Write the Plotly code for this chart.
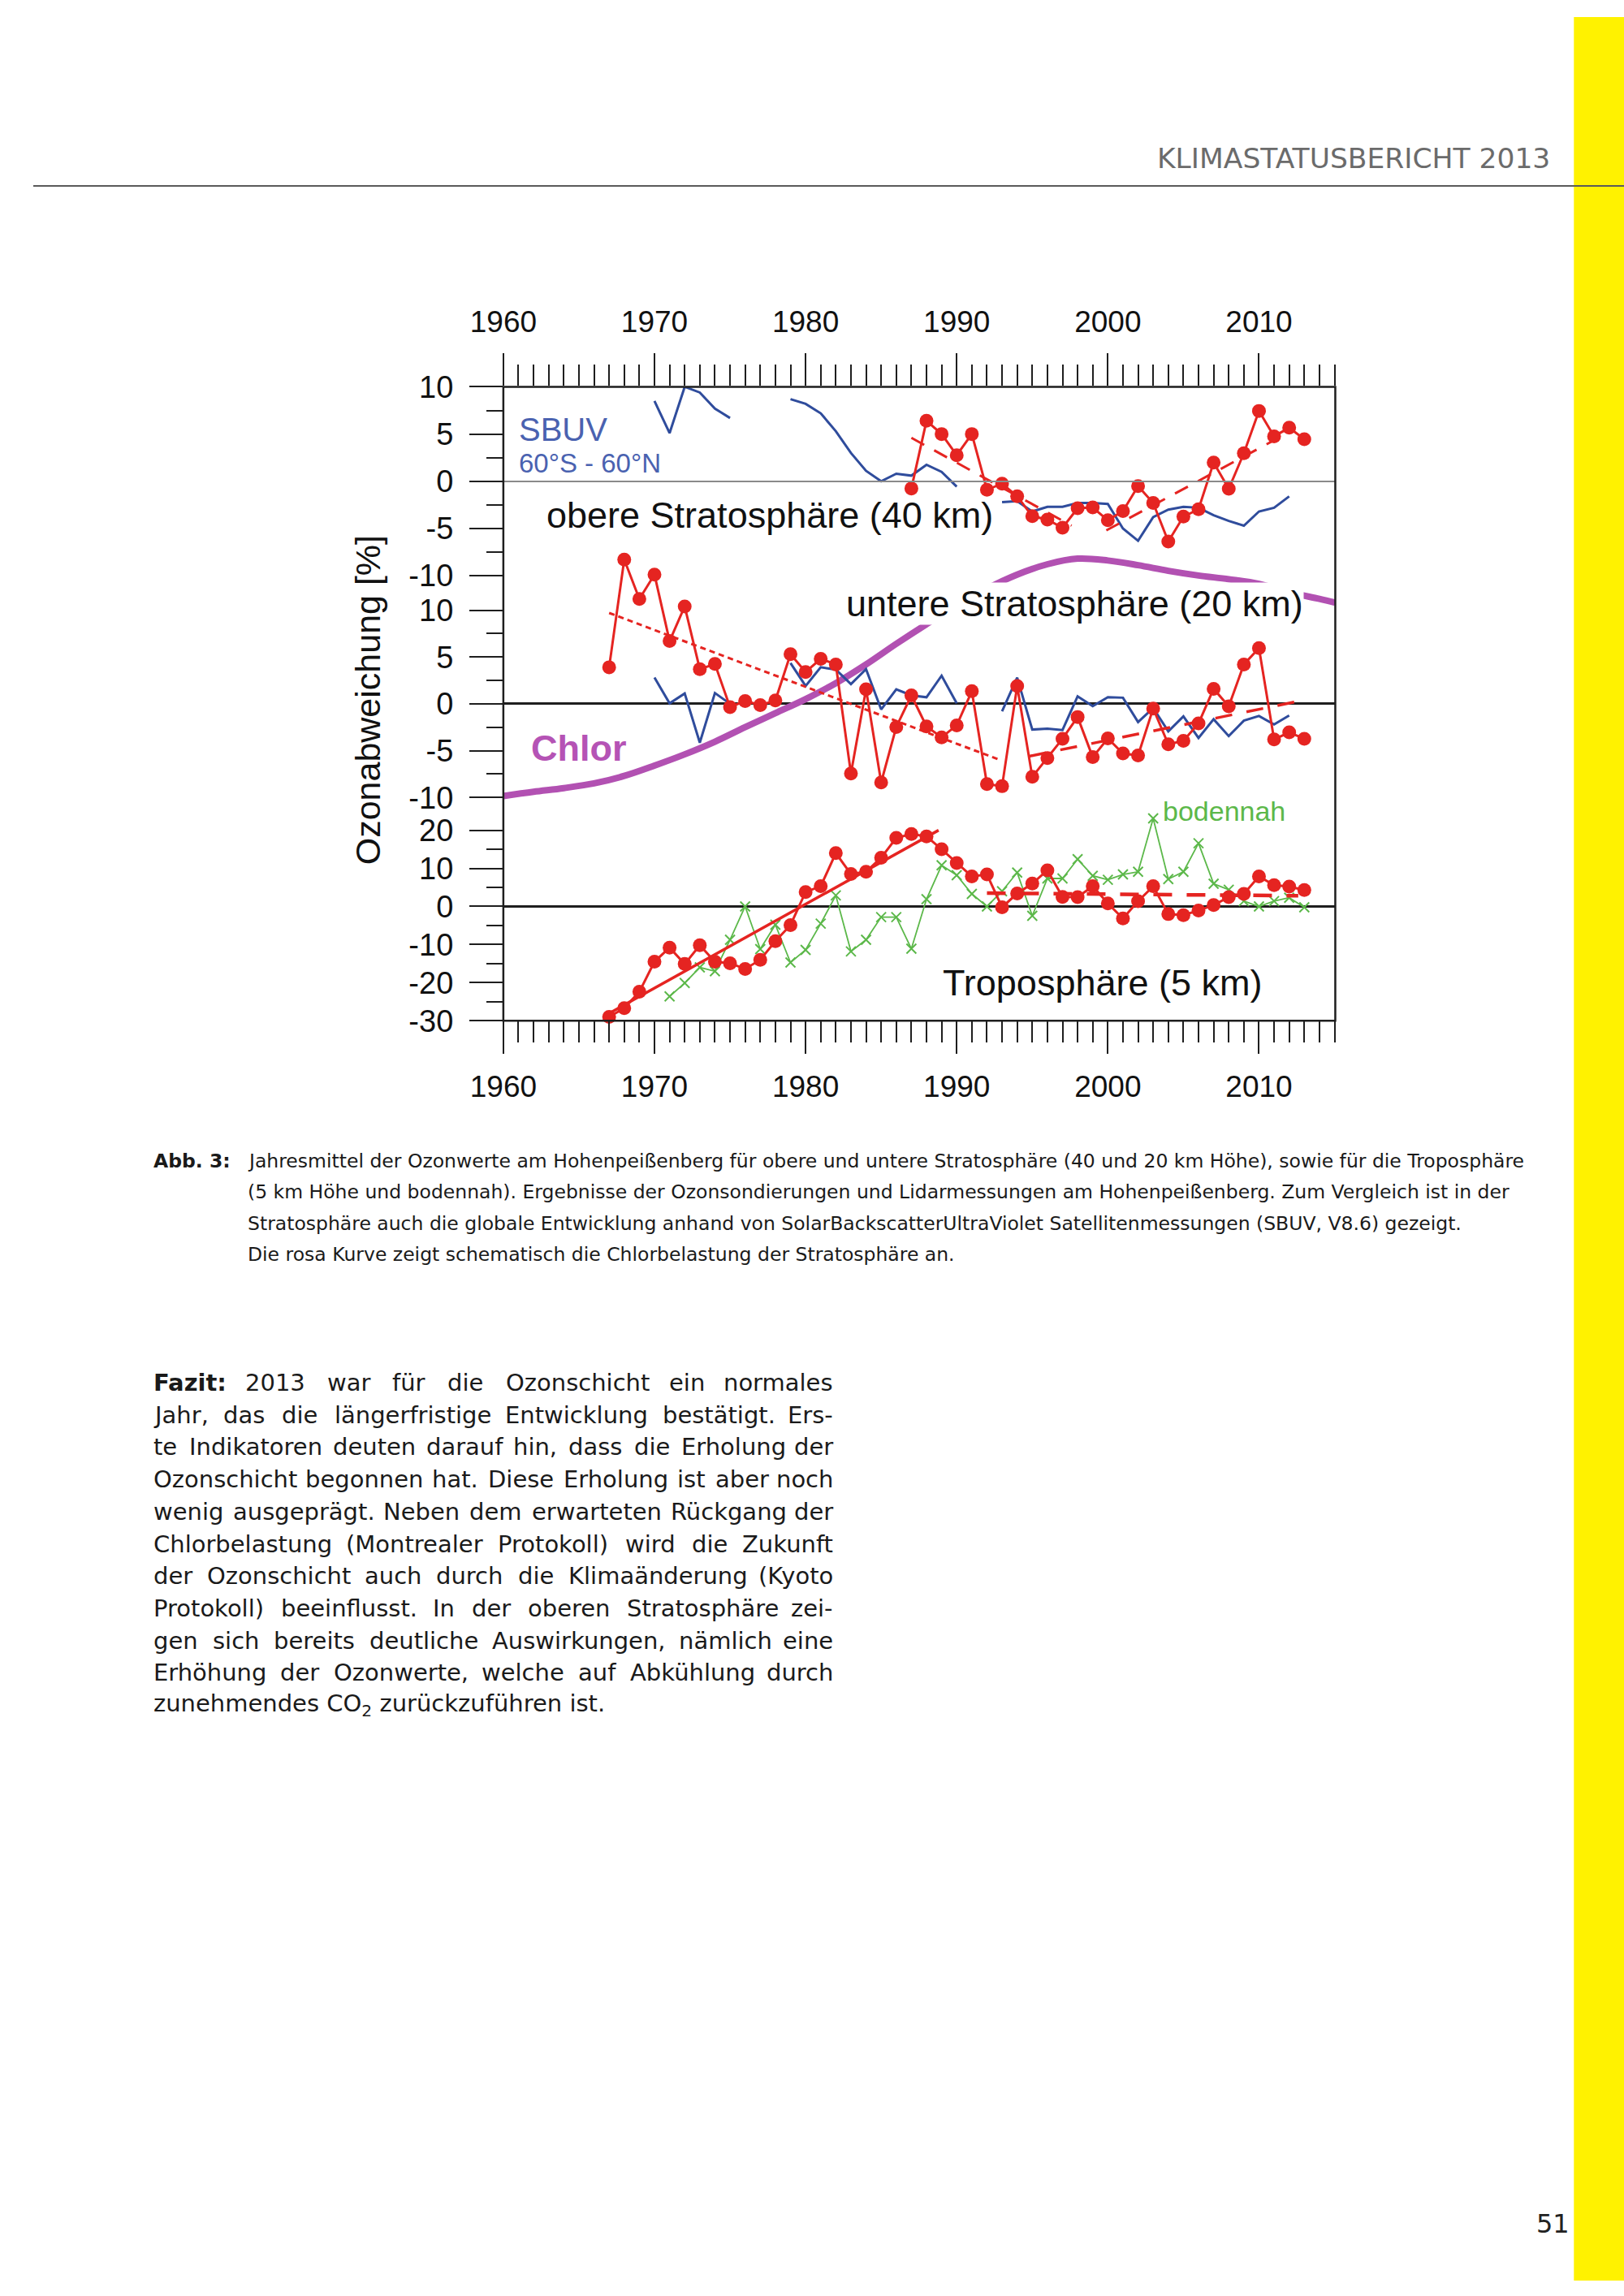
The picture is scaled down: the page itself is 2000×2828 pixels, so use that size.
import plotly.graph_objects as go

W, H = 2000, 2828

# ---------------- data ----------------
decade_ticks = [1960, 1970, 1980, 1990, 2000, 2010]
decade_labels = ["1960", "1970", "1980", "1990", "2000", "2010"]
year_minor = list(range(1960, 2016))

strat_ticks = [-10, -5, 0, 5, 10]
strat_labels = ["-10", "-5", "0", "5", "10"]
strat_minor = [-7.5, -2.5, 2.5, 7.5]
tropo_ticks = [-30, -20, -10, 0, 10, 20]
tropo_labels = ["-30", "-20", "-10", "0", "10", "20"]
tropo_minor = [-25, -15, -5, 5, 15]

# upper stratosphere (40 km), Hohenpeissenberg lidar
years_40km = list(range(1987, 2014))
ozone_40km = [-0.76, 6.4, 5.0, 2.76, 5.0, -0.9, -0.25, -1.58, -3.7, -4.05,
              -4.92, -2.86, -2.77, -4.13, -3.15, -0.52, -2.3, -6.38, -3.74, -2.96,
              1.98, -0.8, 2.97, 7.45, 4.76, 5.67, 4.45]
trend_40km_a_years = [1987, 1997.6]
trend_40km_a = [4.6, -4.7]
trend_40km_b_years = [1999.9, 2012.0]
trend_40km_b = [-5.2, 5.2]

# SBUV 60S-60N
years_sbuv = list(range(1970, 2013))
sbuv_40km = [8.5, 5.1, 10.0, 9.4, 7.7, 6.7, None, None, None,
             8.7, 8.2, 7.2, 5.3, 3.0, 1.1, 0.0, 0.8, 0.6, 1.75, 1.0, -0.56,
             None, None,
             -2.2, -2.1, -3.2, -2.7, -2.7, -2.3, -2.3, -2.4, -5.0, -6.3,
             -3.8, -3.0, -2.7, -2.8, -3.6, -4.2, -4.7, -3.2, -2.8, -1.6]
sbuv_20km = [2.8, 0.05, 1.1, -4.15, 1.15, 0.0, None, None, None,
             4.35, 1.9, 3.9, 3.65, 2.1, 3.7, -0.6, 1.55, 0.9, 0.7, 3.0, 0.05,
             None, None,
             -0.8, 2.8, -2.75, -2.65, -2.8, 0.8, -0.25, 0.7, 0.65, -1.95,
             -0.45, -2.95, -1.35, -3.65, -1.65, -3.45, -1.8, -1.3, -2.2, -1.25]

# lower stratosphere (20 km), ozone sondes
years_sonde = list(range(1967, 2014))
ozone_20km = [3.9, 15.4, 11.2, 13.8, 6.7, 10.4, 3.7, 4.25, -0.35, 0.3,
              -0.14, 0.35, 5.3, 3.4, 4.8, 4.2, -7.45, 1.55, -8.4, -2.48,
              0.9, -2.42, -3.58, -2.3, 1.35, -8.57, -8.8, 1.9, -7.8, -5.8,
              -3.73, -1.41, -5.7, -3.7, -5.3, -5.52, -0.5, -4.33, -3.95, -2.1,
              1.6, -0.27, 4.2, 5.95, -3.8, -3.05, -3.73]
trend_20km_a_years = [1967, 1992.7]
trend_20km_a = [9.7, -5.9]
trend_20km_b_years = [1994.8, 2013]
trend_20km_b = [-5.6, 0.4]

# troposphere (5 km)
ozone_5km = [-29.0, -26.7, -22.4, -14.5, -10.8, -15.1, -10.2, -14.5, -14.9, -16.4,
             -14.0, -9.1, -4.9, 3.8, 5.3, 14.0, 8.5, 9.1, 12.8, 18.0,
             19.0, 18.4, 15.0, 11.4, 7.9, 8.4, -0.2, 3.4, 6.0, 9.5,
             2.5, 2.45, 5.3, 0.8, -3.15, 1.4, 5.3, -2.0, -2.3, -1.05,
             0.35, 2.45, 3.3, 7.9, 5.6, 5.2, 4.3]
trend_5km_a_years = [1966.8, 1988.8]
trend_5km_a = [-28.5, 20.0]
trend_5km_b_years = [1992, 2012.6]
trend_5km_b = [3.5, 2.8]

# near ground (bodennah)
years_ground = list(range(1971, 2014))
ozone_ground = [-23.6, -20.1, -16.0, -17.0, -8.75, 0.0, -11.2, -4.8, -14.7, -11.4,
                -4.5, 2.9, -11.8, -8.75, -2.8, -2.8, -11.1, 1.9, 10.8, 8.2,
                3.3, 0.0, 4.0, 8.9, -2.45, 7.35, 7.35, 12.4, 8.05, 7.0,
                8.4, 9.1, 23.1, 7.2, 9.1, 16.6, 5.95, 4.4, 1.4, 0.0,
                1.4, 2.3, -0.2]

# schematic chlorine loading (drawn in the 20 km panel units)
chlor_years = [1960, 1962, 1964, 1966, 1968, 1970, 1972, 1974, 1976, 1978,
               1980, 1982, 1984, 1986, 1988, 1990, 1992, 1994, 1996, 1998,
               2000, 2002, 2004, 2006, 2008, 2010, 2012, 2014, 2015.05]
chlor_values = [-9.85, -9.4, -9.0, -8.5, -7.7, -6.6, -5.4, -4.05, -2.5, -1.0,
                0.5, 2.2, 4.2, 6.4, 8.5, 10.5, 12.3, 13.8, 14.9, 15.5,
                15.3, 14.8, 14.2, 13.7, 13.3, 12.8, 11.9, 11.2, 10.8]

# ---------------- styles ----------------
RED = "#e52421"
BLUE = "#2f4c9c"
SBUV_TXT = "#4a62b0"
GREEN = "#5cb84a"
MAG = "#b251b2"
INK = "#1e1e1e"
ARIAL = "Liberation Sans, Arial, sans-serif"
DEJAVU = "DejaVu Sans, sans-serif"


def py2p(py):
    return 1 - py / H


def axis_geom(v_hi, p_hi, v_lo, p_lo, p_top, p_bot):
    k = (p_lo - p_hi) / (v_hi - v_lo)
    r_top = v_hi + (p_hi - p_top) / k
    r_bot = v_lo - (p_bot - p_lo) / k
    return [py2p(p_bot), py2p(p_top)], [r_bot, r_top]


X_L, X_R = 591, 1637
xdom = [X_L / W, X_R / W]
xrng = [1960, 2015.05]
FR_TOP, FR_BOT = 462, 1254

dom3, rng3 = axis_geom(10, 462, -10, 698, 462, 700)      # top panel
dom2, rng2 = axis_geom(10, 741, -10, 975, 650, 990)      # middle panel
dom1, rng1 = axis_geom(20, 1016, -30, 1254, 975, 1262)   # bottom panel

fig = go.Figure()


def line(x, y, ax, color, width, dash="solid", mode="lines", marker=None, shape="linear",
         xax="x"):
    d = dict(x=x, y=y, xaxis=xax, yaxis=ax, mode=mode,
             line=dict(color=color, width=width, dash=dash, shape=shape),
             connectgaps=False, hoverinfo="skip", showlegend=False)
    if marker:
        d["marker"] = marker
    fig.add_trace(go.Scatter(**d))


# chlorine curve
line(chlor_years, chlor_values, "y2", MAG, 8, shape="spline")

# top panel
line(years_sbuv, sbuv_40km, "y3", BLUE, 3)
line(trend_40km_a_years, trend_40km_a, "y3", RED, 3, dash="18px,14px")
line(trend_40km_b_years, trend_40km_b, "y3", RED, 3, dash="18px,14px")
line(years_40km, ozone_40km, "y3", RED, 3, mode="lines+markers",
     marker=dict(symbol="circle", size=17, color=RED))
# empty trace binding the top year axis to the top panel
line(decade_ticks, [None] * len(decade_ticks), "y3", RED, 1, xax="x2")

# middle panel
line(years_sbuv, sbuv_20km, "y2", BLUE, 3)
line(trend_20km_a_years, trend_20km_a, "y2", RED, 3, dash="7px,5px")
line(trend_20km_b_years, trend_20km_b, "y2", RED, 3.5, dash="21px,18px")
line(years_sonde, ozone_20km, "y2", RED, 3, mode="lines+markers",
     marker=dict(symbol="circle", size=17, color=RED))

# bottom panel
line(years_ground, ozone_ground, "y", GREEN, 1.8, mode="lines+markers",
     marker=dict(symbol="x-thin", size=12, color=GREEN, line=dict(width=2, color=GREEN)))
line(trend_5km_a_years, trend_5km_a, "y", RED, 3.5)
line(trend_5km_b_years, trend_5km_b, "y", RED, 4.5, dash="23px,18px")
line(years_sonde, ozone_5km, "y", RED, 3, mode="lines+markers",
     marker=dict(symbol="circle", size=17, color=RED))

tickfont = dict(family=ARIAL, size=38, color="#111")
xcommon = dict(domain=xdom, range=xrng, tickmode="array",
               tickvals=decade_ticks, ticktext=decade_labels, ticks="outside",
               ticklen=40, tickwidth=2, tickcolor=INK,
               minor=dict(tickmode="array", tickvals=year_minor, ticks="outside",
                          ticklen=26, tickwidth=2, tickcolor=INK),
               showline=False, showgrid=False, zeroline=False,
               tickfont=dict(family=ARIAL, size=37, color="#111"),
               fixedrange=True)


def ycommon(dom, rng, tv, tt, mv, zc, zw):
    return dict(domain=dom, range=rng, anchor="x", tickmode="array", tickvals=tv,
                ticktext=tt, ticks="outside", ticklen=41, tickwidth=2, tickcolor=INK,
                minor=dict(tickmode="array", tickvals=mv, ticks="outside", ticklen=20,
                           tickwidth=2, tickcolor=INK),
                showline=False, showgrid=False, zeroline=True, zerolinecolor=zc,
                zerolinewidth=zw, tickfont=tickfont, ticklabelstandoff=12,
                fixedrange=True)


annotations = []


def ann(text, x, y, xref="paper", yref="paper", size=30, color=INK, family=DEJAVU,
        xanchor="left", yanchor="middle", **kw):
    annotations.append(dict(text=text, x=x, y=y, xref=xref, yref=yref, showarrow=False,
                            xanchor=xanchor, yanchor=yanchor, borderpad=0,
                            font=dict(size=size, color=color, family=family), **kw))


# chart labels
ann("SBUV", 1961.0, 5.5, "x", "y3", 40, SBUV_TXT, ARIAL)
ann("60°S - 60°N", 1961.0, 1.9, "x", "y3", 33, SBUV_TXT, ARIAL)
ann("obere Stratosphäre (40 km)", 1962.8, -3.6, "x", "y3", 45, "#111", ARIAL)
ann("untere Stratosphäre (20 km)", 1982.6, 10.7, "x", "y2", 45, "#111", ARIAL,
    bgcolor="white")
ann("<b>Chlor</b>", 1961.8, -4.7, "x", "y2", 45, "#b553b5", ARIAL)
ann("bodennah", 2003.6, 25.0, "x", "y", 34, GREEN, ARIAL)
ann("Troposphäre (5 km)", 1989.0, -20.0, "x", "y", 45, "#111", ARIAL)
ann("Ozonabweichung [%]", 421 / W, py2p(853), size=43, color="#111", family=ARIAL,
    xanchor="center", textangle=-90)

# page header / footer
ann("KLIMASTATUSBERICHT 2013", 1908 / W, py2p(177), size=34.5, color="#6b6b6b",
    xanchor="right")
ann("51", 1933 / W, py2p(2757), size=32, color="#222", xanchor="right")

# caption
CAP_FS = 23.5
caption_lines = [
    "Jahresmittel der Ozonwerte am Hohenpeißenberg für obere und untere Stratosphäre (40 und 20 km Höhe), sowie für die Troposphäre",
    "(5 km Höhe und bodennah). Ergebnisse der Ozonsondierungen und Lidarmessungen am Hohenpeißenberg. Zum Vergleich ist in der",
    "Stratosphäre auch die globale Entwicklung anhand von SolarBackscatterUltraViolet Satellitenmessungen (SBUV, V8.6) gezeigt.",
    "Die rosa Kurve zeigt schematisch die Chlorbelastung der Stratosphäre an.",
]
ann("<b>Abb. 3:</b>", 150 / W, py2p(1429), size=CAP_FS, color="#1a1a1a")
for i, t in enumerate(caption_lines):
    ann(t, 268 / W, py2p(1429 + i * 39), size=CAP_FS, color="#1a1a1a")

# Fazit paragraph (justified)
DV = {" ": 651, "(": 799, ")": 799, ",": 651, "-": 739, ".": 651, ":": 690,
      "0": 1303, "1": 1303, "2": 1303, "3": 1303, "4": 1303, "5": 1303, "6": 1303,
      "7": 1303, "8": 1303, "9": 1303,
      "A": 1401, "B": 1405, "C": 1430, "D": 1577, "E": 1294, "F": 1178, "G": 1587,
      "H": 1540, "I": 604, "J": 604, "K": 1343, "L": 1141, "M": 1767, "N": 1532,
      "O": 1612, "P": 1235, "Q": 1612, "R": 1423, "S": 1300, "T": 1251, "U": 1499,
      "V": 1401, "W": 2025, "X": 1403, "Y": 1251, "Z": 1403,
      "a": 1255, "b": 1300, "c": 1126, "d": 1300, "e": 1260, "f": 721, "g": 1300,
      "h": 1298, "i": 569, "j": 569, "k": 1186, "l": 569, "m": 1995, "n": 1298,
      "o": 1253, "p": 1300, "q": 1300, "r": 842, "s": 1067, "t": 803, "u": 1298,
      "v": 1212, "w": 1675, "x": 1212, "y": 1212, "z": 1075,
      "ä": 1255, "ö": 1253, "ü": 1298, "ß": 1278}


def tw(s, fs, bold=False):
    u = sum(DV.get(c, 1250) for c in s)
    if bold:
        u *= 1.1
    return u / 2048 * fs


FZ_FS = 29
FZ_L, FZ_R = 150, 1007
fazit_lines = [
    "Fazit: 2013 war für die Ozonschicht ein normales",
    "Jahr, das die längerfristige Entwicklung bestätigt. Ers-",
    "te Indikatoren deuten darauf hin, dass die Erholung der",
    "Ozonschicht begonnen hat. Diese Erholung ist aber noch",
    "wenig ausgeprägt. Neben dem erwarteten Rückgang der",
    "Chlorbelastung (Montrealer Protokoll) wird die Zukunft",
    "der Ozonschicht auch durch die Klimaänderung (Kyoto",
    "Protokoll) beeinflusst. In der oberen Stratosphäre zei-",
    "gen sich bereits deutliche Auswirkungen, nämlich eine",
    "Erhöhung der Ozonwerte, welche auf Abkühlung durch",
]
for li, t in enumerate(fazit_lines):
    y = py2p(1706 + li * 40.3)
    words = t.split(" ")
    bold0 = li == 0
    widths = [tw(w, FZ_FS, bold0 and i == 0) for i, w in enumerate(words)]
    gap = (FZ_R - FZ_L - sum(widths)) / (len(words) - 1)
    x = FZ_L
    for i, w in enumerate(words):
        txt = "<b>" + w + "</b>" if (bold0 and i == 0) else w
        if i == len(words) - 1:
            ann(txt, FZ_R / W, y, size=FZ_FS, color="#1a1a1a", xanchor="right")
        else:
            ann(txt, x / W, y, size=FZ_FS, color="#1a1a1a")
        x += widths[i] + gap
ann("zunehmendes CO<sub>2</sub> zurückzuführen ist.", FZ_L / W,
    py2p(1706 + 10 * 40.3), size=FZ_FS, color="#1a1a1a")

shapes = [
    dict(type="rect", xref="paper", yref="paper", x0=1937 / W, x1=1, y0=0, y1=1,
         fillcolor="#fff200", line=dict(width=0), layer="below"),
    dict(type="line", xref="paper", yref="paper", x0=0, x1=1, y0=py2p(211), y1=py2p(211),
         line=dict(color="#5a5a5a", width=2)),
    dict(type="rect", xref="paper", yref="paper", x0=X_L / W, x1=X_R / W,
         y0=py2p(FR_BOT), y1=py2p(FR_TOP), line=dict(color=INK, width=2.5),
         fillcolor="rgba(0,0,0,0)", layer="above"),
]

fig.update_layout(
    width=W, height=H, margin=dict(l=0, r=0, t=0, b=0),
    paper_bgcolor="white", plot_bgcolor="rgba(0,0,0,0)", showlegend=False,
    xaxis=dict(**xcommon, anchor="free", position=py2p(FR_BOT), side="bottom",
               ticklabelstandoff=8),
    xaxis2=dict(**xcommon, anchor="y3", side="top", matches="x", ticklabelstandoff=12),
    yaxis=ycommon(dom1, rng1, tropo_ticks, tropo_labels, tropo_minor, INK, 2.5),
    yaxis2=ycommon(dom2, rng2, strat_ticks, strat_labels, strat_minor, INK, 2.5),
    yaxis3=ycommon(dom3, rng3, strat_ticks, strat_labels, strat_minor, "#8a8a8a", 1.5),
    annotations=annotations, shapes=shapes,
)

page_css = ("document.documentElement.style.margin='0';"
            "document.documentElement.style.overflow='hidden';"
            "document.body.style.margin='0';"
            "document.body.style.padding='0';"
            "document.body.style.overflow='hidden';")

fig.write_html("out.html", post_script=page_css, config={"displayModeBar": False})
